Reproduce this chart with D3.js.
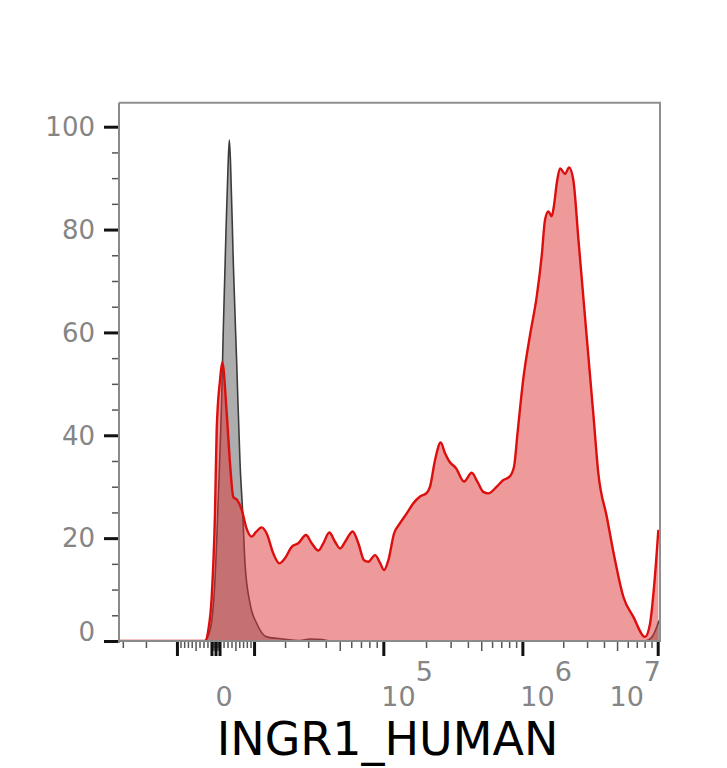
<!DOCTYPE html>
<html>
<head>
<meta charset="utf-8">
<script src="https://cdn.jsdelivr.net/npm/d3@7"></script>
<style>
html, body { margin: 0; padding: 0; background: #fff; }
svg { display: block; }
</style>
</head>
<body>
<svg id="chart" width="727" height="768"></svg>
<script>
// ---- data (histogram in display channels 0..1024, counts normalised to mode, %) ----
const redChannel = [0, 163, 169, 175.5, 181.7, 184.9, 191.2, 195.5, 203.9, 210.1, 216.4, 223.9, 232.3, 241.7, 251.2, 259.3, 270.1, 279.6, 292.1, 303.4, 314.2, 326.9, 339.4, 354.0, 364.8, 377.3, 386.7, 398.1, 408.9, 418.4, 429.7, 442.4, 453.0, 463.8, 471.9, 484.6, 494.1, 501.6, 509.8, 520.6, 531.9, 544.6, 557.1, 569.8, 582.5, 588.7, 598.2, 609.0, 617.1, 625.3, 637.9, 653.1, 667.7, 678.3, 689.6, 699.1, 715.0, 727.5, 738.8, 747.7, 754.4, 765.3, 778.0, 790.7, 800.2, 806.4, 812.7, 819.1, 823.5, 828.6, 834.8, 844.3, 851.9, 860.0, 869.5, 878.9, 888.4, 897.9, 907.3, 923.2, 938.9, 954.6, 973.6, 995.7, 1005.2, 1013.3, 1020.9];
const redCount = [0, 0, 2.1, 8.6, 24.9, 41, 50.7, 54.2, 44.3, 34.6, 28, 27.4, 25.5, 21.8, 20.3, 21.2, 22.1, 20.9, 17.0, 15.1, 16.1, 18.3, 19.0, 20.6, 19.0, 17.6, 19.0, 21.1, 19.3, 18.0, 19.6, 21.3, 19.0, 15.7, 15.4, 16.7, 15.2, 13.8, 15.7, 20.9, 22.9, 24.8, 26.8, 28.1, 28.8, 30.0, 35.2, 38.6, 36.5, 34.9, 33.6, 31.0, 32.7, 31.0, 29.0, 28.7, 30.0, 31.3, 31.9, 33.9, 40.5, 51.0, 59.5, 67.0, 75.0, 81.9, 83.5, 82.6, 84.8, 89.0, 91.9, 90.8, 92.1, 89.6, 78.2, 66.8, 55.4, 44.0, 32.6, 24.2, 15.7, 8.6, 4.7, 0.8, 3.4, 11.2, 21.6];
const grayChannel = [0, 161, 172.3, 181.7, 188.0, 194.4, 197.4, 202.6, 206.3, 208.8, 211.1, 216.4, 222.8, 229.1, 234.2, 238.5, 248.0, 260.7, 279.6, 310.5, 342.6, 361.6, 384.3, 399.4, 995.7, 1009, 1022.2];
const grayCount = [0, 0, 2.1, 11.9, 28, 47.5, 60.5, 80, 92, 97.4, 93, 73.4, 54, 34.6, 24.8, 15.1, 7.3, 3.4, 0.8, 0.4, 0.1, 0.4, 0.3, 0, 0, 0.8, 4];

const yMajorTicks = [0, 20, 40, 60, 80, 100];
const yMinorTicks = [5, 10, 15, 25, 30, 35, 45, 50, 55, 65, 70, 75, 85, 90, 95];
const xMajorTicks = [-1e4, -1e3, 0, 1e3, 1e4, 1e5, 1e6, 1e7];
const xMinorMultipliers = [2, 3, 4, 5, 6, 7, 8, 9];
const xMinorDecades = [1e2, 1e3, 1e4, 1e5, 1e6];
const xTickLabels = [
  { value: 0, base: "0", exp: "" },
  { value: 1e5, base: "10", exp: "5" },
  { value: 1e6, base: "10", exp: "6" },
  { value: 1e7, base: "10", exp: "7" }
];
const axisTitle = "INGR1_HUMAN";

(function () {
// ---- logicle (biexponential) transform: value -> [0,1] ----
function makeLogicle(T, W, M, A) {
  const w = W / (M + A), x2 = A / (M + A), x1 = x2 + w, x0 = x2 + 2 * w;
  const b = (M + A) * Math.LN10;
  let lo = 1e-9, hi = b;
  for (let i = 0; i < 200; i++) {
    const m = (lo + hi) / 2;
    const g = 2 * (Math.log(m) - Math.log(b)) + w * (b + m);
    if (g > 0) hi = m; else lo = m;
  }
  const d = (lo + hi) / 2;
  const ca = Math.exp(x0 * (b + d));
  const mfa = Math.exp(b * x1) - ca / Math.exp(d * x1);
  const a = T / ((Math.exp(b) - mfa) - ca / Math.exp(d));
  const c = ca * a, f = -mfa * a;
  const S = x => {
    const neg = x < x1;
    const xx = neg ? 2 * x1 - x : x;
    const v = a * Math.exp(b * xx) - c * Math.exp(-d * xx) + f;
    return neg ? -v : v;
  };
  return v => {
    let l = -0.5, h = 1.5;
    for (let i = 0; i < 100; i++) {
      const m = (l + h) / 2;
      if (S(m) < v) l = m; else h = m;
    }
    return (l + h) / 2;
  };
}
const logicle = makeLogicle(1.04e7, 0.32, 3.618, 0.396);
const NCH = 1024;
const toChannel = v => logicle(v) * NCH;

// ---- layout ----
const pL = 119, pR = 660, pT = 102.7, pB = 641;
const svg = d3.select("#chart");
const x = d3.scaleLinear().domain([0, NCH]).range([pL, pR]);
const y = d3.scaleLinear().domain([0, 100]).range([pB, 126.7]);

svg.append("defs").append("clipPath").attr("id", "plotclip")
  .append("rect").attr("x", pL).attr("y", pT).attr("width", pR - pL).attr("height", pB - pT);

const redData = redChannel.map((c, i) => [c, redCount[i]]);
const grayData = grayChannel.map((c, i) => [c, grayCount[i]]);

const area = d3.area().x(d => x(d[0])).y0(y(0)).y1(d => y(d[1])).curve(d3.curveMonotoneX);
const line = d3.line().x(d => x(d[0])).y(d => y(d[1])).curve(d3.curveMonotoneX);

const plot = svg.append("g").attr("clip-path", "url(#plotclip)");
plot.append("path").datum(grayData).attr("d", area).attr("fill", "#adadad");
plot.append("path").datum(grayData).attr("d", line).attr("fill", "none")
  .attr("stroke", "#3c3c3c").attr("stroke-width", 1.6).attr("stroke-linejoin", "round");
plot.append("path").datum(redData).attr("d", area).attr("fill", "rgba(223,53,53,0.5)");
plot.append("path").datum(redData).attr("d", line).attr("fill", "none")
  .attr("stroke", "#dd0e0e").attr("stroke-width", 2.4).attr("stroke-linejoin", "round");

// ---- frame ----
svg.append("line").attr("x1", pL).attr("x2", pR + 1).attr("y1", pT).attr("y2", pT)
  .attr("stroke", "#8f8f8f").attr("stroke-width", 2);
svg.append("line").attr("x1", pR).attr("x2", pR).attr("y1", pT).attr("y2", pB)
  .attr("stroke", "#8f8f8f").attr("stroke-width", 2);

// ---- y axis ----
const gyMinor = svg.append("g").attr("transform", `translate(${pL},0)`)
  .call(d3.axisLeft(y).tickValues(yMinorTicks).tickSize(7).tickFormat(""));
gyMinor.select(".domain").remove();
gyMinor.selectAll(".tick line").attr("stroke", "#555").attr("stroke-width", 1.5);

const gy = svg.append("g").attr("transform", `translate(${pL},0)`)
  .call(d3.axisLeft(y).tickValues(yMajorTicks).tickSize(15).tickPadding(9).tickFormat(d3.format("d")));
gy.select(".domain").remove();
gy.selectAll(".tick line").attr("stroke", "#111").attr("stroke-width", 3);
gy.selectAll(".tick text")
  .attr("font-family", "DejaVu Sans, Verdana, sans-serif").attr("font-size", 26)
  .attr("fill", "#858585")
  .attr("dy", d => d === 0 ? "-0.02em" : "0.34em");

svg.append("line").attr("x1", pL).attr("x2", pL).attr("y1", pT).attr("y2", pB + 2)
  .attr("stroke", "#8a8a8a").attr("stroke-width", 2);

// ---- x axis ----
const xMinorValues = [], xMidValues = [];
xMinorDecades.forEach(dec => xMinorMultipliers.forEach(k => {
  [k * dec, -k * dec].forEach(v => {
    const ch = toChannel(v);
    if (ch >= 0 && ch <= NCH) (k === 5 ? xMidValues : xMinorValues).push(ch);
  });
}));
const xMajorValues = xMajorTicks.map(toChannel);

const gxMinor = svg.append("g").attr("transform", `translate(0,${pB})`)
  .call(d3.axisBottom(x).tickValues(xMinorValues).tickSize(7).tickFormat(""));
gxMinor.select(".domain").remove();
gxMinor.selectAll(".tick line").attr("stroke", "#555").attr("stroke-width", 1.5);

const gxMid = svg.append("g").attr("transform", `translate(0,${pB})`)
  .call(d3.axisBottom(x).tickValues(xMidValues).tickSize(10).tickFormat(""));
gxMid.select(".domain").remove();
gxMid.selectAll(".tick line").attr("stroke", "#555").attr("stroke-width", 1.5);

const gxMajor = svg.append("g").attr("transform", `translate(0,${pB})`)
  .call(d3.axisBottom(x).tickValues(xMajorValues).tickSize(15).tickFormat(""));
gxMajor.select(".domain").remove();
gxMajor.selectAll(".tick line").attr("stroke", "#111").attr("stroke-width", 3);

svg.append("line").attr("x1", pL - 1).attr("x2", pR + 1).attr("y1", pB).attr("y2", pB)
  .attr("stroke", "#8a8a8a").attr("stroke-width", 2);

// tick labels
const labelG = svg.append("g")
  .attr("font-family", "DejaVu Sans, Verdana, sans-serif").attr("font-size", 27).attr("fill", "#858585");
xTickLabels.forEach((lab, i) => {
  const px = x(toChannel(lab.value));
  const t = labelG.append("text").attr("y", 706);
  if (lab.exp === "") {
    t.attr("x", px + 8.5).attr("text-anchor", "middle").text(lab.base);
  } else if (i === xTickLabels.length - 1) {
    t.attr("x", pR + 1).attr("text-anchor", "end");
    t.append("tspan").text(lab.base);
    t.append("tspan").attr("dy", -25).text(lab.exp);
  } else {
    t.attr("x", px - 2).attr("text-anchor", "start");
    t.append("tspan").text(lab.base);
    t.append("tspan").attr("dy", -25).text(lab.exp);
  }
});

// axis title
svg.append("text").attr("x", (pL + pR) / 2 - 2).attr("y", 755)
  .attr("text-anchor", "middle")
  .attr("font-family", "DejaVu Sans, Verdana, sans-serif").attr("font-size", 46)
  .attr("fill", "#000").text(axisTitle);
})();
</script>
</body>
</html>
